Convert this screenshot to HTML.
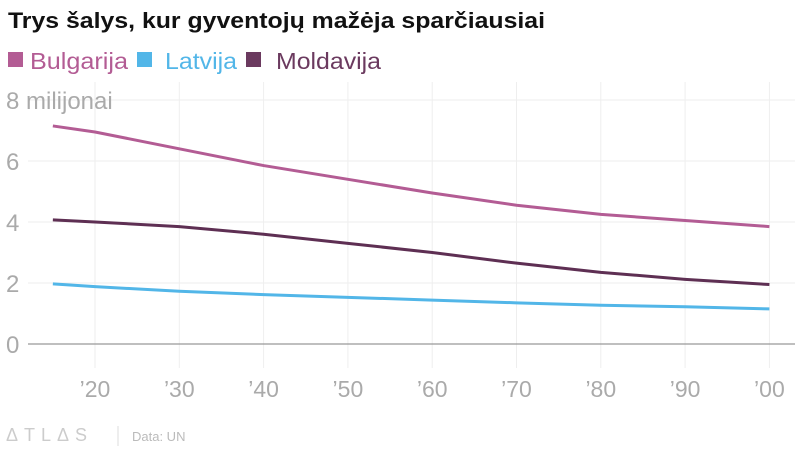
<!DOCTYPE html>
<html><head><meta charset="utf-8"><style>
body{margin:0;background:#fff;font-family:"Liberation Sans",sans-serif;}
#c{width:800px;height:450px;position:relative;background:#fff;}
</style></head><body>
<div id="c">
<svg width="800" height="450">
<text x="8" y="28" font-size="22" font-weight="bold" fill="#111" textLength="537" lengthAdjust="spacingAndGlyphs">Trys šalys, kur gyventojų mažėja sparčiausiai</text>
<g>
<rect x="8" y="52" width="15" height="15" fill="#b35c94"/>
<text x="30" y="69" font-size="23" fill="#b35c94" textLength="98" lengthAdjust="spacingAndGlyphs">Bulgarija</text>
<rect x="137" y="52" width="15" height="15" fill="#52b6e8"/>
<text x="165" y="69" font-size="23" fill="#52b6e8" textLength="72" lengthAdjust="spacingAndGlyphs">Latvija</text>
<rect x="246" y="52" width="15" height="15" fill="#6b3a5f"/>
<text x="276" y="69" font-size="23" fill="#6b3a5f" textLength="105" lengthAdjust="spacingAndGlyphs">Moldavija</text>
</g>
<g id="grid"></g><g id="lines"></g>
<text x="6" y="441" font-size="18" fill="#ccc" letter-spacing="6">ΔTLΔS</text>
<line x1="118" y1="426" x2="118" y2="446" stroke="#ddd"/>
<text x="132" y="441" font-size="13" fill="#bbb">Data: UN</text>
</svg></div>
<script>
const years=[2015,2020,2030,2040,2050,2060,2070,2080,2090,2100];
const bulgarija=[7.15,6.95,6.4,5.85,5.4,4.95,4.55,4.25,4.05,3.85];
const latvija=[1.97,1.88,1.73,1.62,1.53,1.44,1.35,1.27,1.22,1.15];
const moldavija=[4.07,4.0,3.85,3.6,3.3,3.0,2.65,2.35,2.12,1.95];
const yTicks=[0,2,4,6,8];
const xTicks=[2020,2030,2040,2050,2060,2070,2080,2090,2100];
const xTickLabels=["’20","’30","’40","’50","’60","’70","’80","’90","’00"];
const NS="http://www.w3.org/2000/svg";
const X=y=>95+(y-2020)*8.43, Y=v=>344-v*30.5;
const g=document.getElementById('grid'), L=document.getElementById('lines');
function mk(tag,at,p){const e=document.createElementNS(NS,tag);for(const k in at)e.setAttribute(k,at[k]);p.appendChild(e);return e;}
xTicks.forEach((t,i)=>{
 const l=mk('line',{x1:X(t),x2:X(t),y1:82,y2:368,stroke:'#eee'},g);
 
 
 const tx=mk('text',{x:X(t),y:397,'font-size':23,fill:'#aaa','text-anchor':'middle'},g);
 tx.textContent=xTickLabels[i];
 
 
});
yTicks.forEach(t=>{
 const l=mk('line',{x1:28,x2:795,y1:Y(t),y2:Y(t),stroke:t==0?'#999':'#eee','stroke-width':t==0?1.2:1},g);
 
 
 const tx=mk('text',{x:6,y:Y(t)+9,'font-size':24,fill:'#aaa'},g);
 tx.textContent=t==8?'8 milijonai':String(t);
 
 
});
[[bulgarija,'#b35c94','line-bulgarija'],[moldavija,'#5e2f53','line-moldavija'],[latvija,'#52b6e8','line-latvija']].forEach(([s,c,n])=>{
 const p=mk('polyline',{points:s.map((v,i)=>X(years[i])+','+Y(v)).join(' '),fill:'none',stroke:c,'stroke-width':3,'stroke-linejoin':'round'},L);
 
 
});
</script>
</body></html>
